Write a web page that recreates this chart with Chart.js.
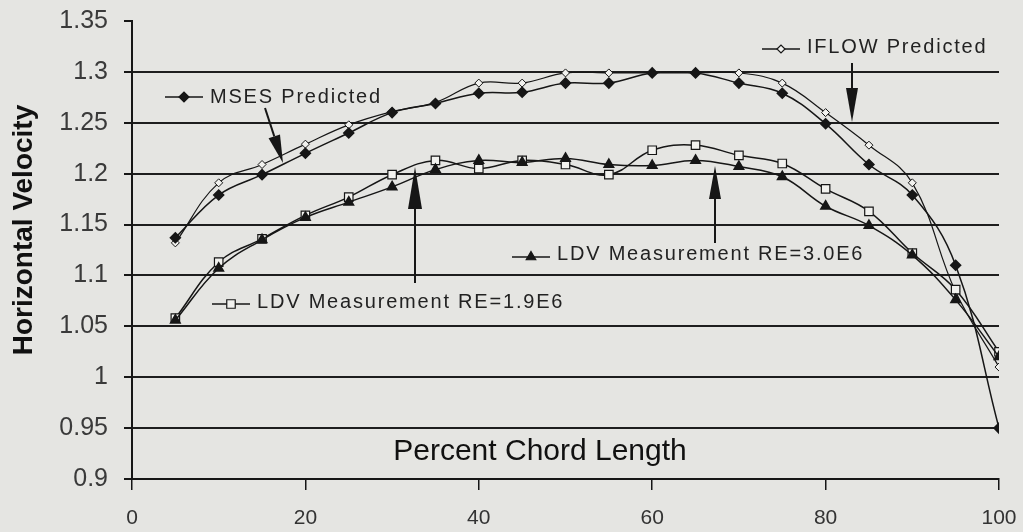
<!DOCTYPE html>
<html>
<head>
<meta charset="utf-8">
<title>Horizontal Velocity vs Percent Chord Length</title>
<script src="https://cdn.jsdelivr.net/npm/chart.js@4.4.0/dist/chart.umd.min.js"></script>
<style>
  html, body { margin: 0; padding: 0; background: #e5e5e2; }
  canvas { display: block; }
</style>
</head>
<body>
<canvas id="velocityChart" width="1023" height="532"></canvas>
<script>
// percent chord stations
const chordPercent = [5, 10, 15, 20, 25, 30, 35, 40, 45, 50, 55, 60, 65, 70, 75, 80, 85, 90, 95, 100];

// horizontal velocity at each station
const msesPredicted = [1.137, 1.179, 1.199, 1.220, 1.240, 1.260, 1.269, 1.279, 1.280, 1.289, 1.289, 1.299, 1.299, 1.289, 1.279, 1.249, 1.209, 1.179, 1.110, 0.950];
const iflowPredicted = [1.132, 1.191, 1.209, 1.229, 1.248, 1.261, 1.270, 1.289, 1.289, 1.299, 1.299, 1.299, 1.299, 1.299, 1.289, 1.260, 1.228, 1.191, 1.084, 1.010];
const ldvRe19 = [1.058, 1.113, 1.136, 1.159, 1.177, 1.199, 1.213, 1.205, 1.213, 1.209, 1.199, 1.223, 1.228, 1.218, 1.210, 1.185, 1.163, 1.122, 1.086, 1.025];
const ldvRe30 = [1.056, 1.107, 1.135, 1.157, 1.172, 1.187, 1.204, 1.213, 1.211, 1.215, 1.209, 1.208, 1.213, 1.207, 1.197, 1.168, 1.149, 1.120, 1.076, 1.020];

const velocityTicks = [0.9, 0.95, 1, 1.05, 1.1, 1.15, 1.2, 1.25, 1.3, 1.35];
const velocityTickLabels = ['0.9', '0.95', '1', '1.05', '1.1', '1.15', '1.2', '1.25', '1.3', '1.35'];
const chordTicks = [0, 20, 40, 60, 80, 100];

const ink = '#161616';
const paper = '#f2f2ef';
const fontFamily = '"Liberation Sans", Arial, sans-serif';

const toPoints = values => values.map((v, i) => ({ x: chordPercent[i], y: v }));

// marker + label entries drawn inside the plot, each with its own arrow
const notes = [
  { text: 'MSES Predicted', style: 'rectRot', radius: 5, fill: ink, lineX: 165, lineY: 97, textX: 210, baseY: 103,
    arrow: { x1: 265, y1: 108, x2: 283, y2: 163, head: 28, half: 6 } },
  { text: 'IFLOW Predicted', style: 'rectRot', radius: 4, fill: paper, lineX: 762, lineY: 49, textX: 807, baseY: 53,
    arrow: { x1: 852, y1: 63, x2: 852, y2: 122, head: 34, half: 6 } },
  { text: 'LDV Measurement RE=1.9E6', style: 'rect', radius: 6, fill: paper, lineX: 212, lineY: 304, textX: 257, baseY: 308,
    arrow: { x1: 415, y1: 283, x2: 415, y2: 167, head: 42, half: 7 } },
  { text: 'LDV Measurement RE=3.0E6', style: 'triangle', radius: 5.5, fill: ink, lineX: 512, lineY: 257, textX: 557, baseY: 260,
    arrow: { x1: 715, y1: 243, x2: 715, y2: 166, head: 33, half: 6 } }
];

function drawMarker(ctx, style, radius, fill, x, y) {
  ctx.fillStyle = fill;
  ctx.strokeStyle = ink;
  ctx.lineWidth = 1.2;
  Chart.helpers.drawPoint(ctx, { pointStyle: style, radius: radius, rotation: 0, borderWidth: 1.2 }, x, y);
}

function drawArrow(ctx, a) {
  const ang = Math.atan2(a.y2 - a.y1, a.x2 - a.x1);
  const bx = a.x2 - Math.cos(ang) * a.head;
  const by = a.y2 - Math.sin(ang) * a.head;
  ctx.strokeStyle = ink;
  ctx.lineWidth = 2;
  ctx.beginPath();
  ctx.moveTo(a.x1, a.y1);
  ctx.lineTo(bx, by);
  ctx.stroke();
  ctx.fillStyle = ink;
  ctx.beginPath();
  ctx.moveTo(a.x2, a.y2);
  ctx.lineTo(bx + Math.sin(ang) * a.half, by - Math.cos(ang) * a.half);
  ctx.lineTo(bx - Math.sin(ang) * a.half, by + Math.cos(ang) * a.half);
  ctx.closePath();
  ctx.fill();
}

const chartNotes = {
  id: 'chartNotes',
  beforeDraw(chart) {
    const ctx = chart.ctx;
    ctx.save();
    ctx.fillStyle = '#e5e5e2';
    ctx.fillRect(0, 0, chart.width, chart.height);
    ctx.restore();
  },
  afterDatasetsDraw(chart) {
    const ctx = chart.ctx;
    ctx.save();
    notes.forEach(n => {
      ctx.strokeStyle = ink;
      ctx.lineWidth = 1.5;
      ctx.beginPath();
      ctx.moveTo(n.lineX, n.lineY);
      ctx.lineTo(n.lineX + 38, n.lineY);
      ctx.stroke();
      drawMarker(ctx, n.style, n.radius, n.fill, n.lineX + 19, n.lineY);

      ctx.fillStyle = '#222';
      ctx.font = '20px ' + fontFamily;
      ctx.letterSpacing = '1.8px';
      ctx.textAlign = 'left';
      ctx.textBaseline = 'alphabetic';
      ctx.fillText(n.text, n.textX, n.baseY);
      ctx.letterSpacing = '0px';

      drawArrow(ctx, n.arrow);
    });

    // axis titles
    ctx.fillStyle = '#111';
    ctx.textAlign = 'center';
    ctx.textBaseline = 'alphabetic';
    ctx.font = '30px ' + fontFamily;
    ctx.fillText('Percent Chord Length', 540, 460);

    ctx.translate(24, 230);
    ctx.rotate(-Math.PI / 2);
    ctx.textBaseline = 'middle';
    ctx.font = 'bold 28px ' + fontFamily;
    ctx.fillText('Horizontal Velocity', 0, 0);
    ctx.restore();
  }
};

const ctx = document.getElementById('velocityChart').getContext('2d');
const velocityChart = new Chart(ctx, {
  type: 'line',
  data: {
    datasets: [
      {
        label: 'MSES Predicted',
        data: toPoints(msesPredicted),
        borderColor: ink,
        borderWidth: 1.5,
        pointStyle: 'rectRot',
        pointRadius: 5,
        pointBackgroundColor: ink,
        pointBorderColor: ink,
        order: 1
      },
      {
        label: 'IFLOW Predicted',
        data: toPoints(iflowPredicted),
        borderColor: ink,
        borderWidth: 1.2,
        pointStyle: 'rectRot',
        pointRadius: 4,
        pointBackgroundColor: paper,
        pointBorderColor: ink,
        pointBorderWidth: 1,
        order: 3
      },
      {
        label: 'LDV Measurement RE=1.9E6',
        data: toPoints(ldvRe19),
        borderColor: ink,
        borderWidth: 1.5,
        pointStyle: 'rect',
        pointRadius: 6,
        pointBackgroundColor: paper,
        pointBorderColor: ink,
        pointBorderWidth: 1.2,
        order: 2
      },
      {
        label: 'LDV Measurement RE=3.0E6',
        data: toPoints(ldvRe30),
        borderColor: ink,
        borderWidth: 1.5,
        pointStyle: 'triangle',
        pointRadius: 5.5,
        pointBackgroundColor: ink,
        pointBorderColor: ink,
        order: 0
      }
    ]
  },
  options: {
    responsive: false,
    animation: false,
    devicePixelRatio: 1,
    layout: { autoPadding: false, padding: { top: 21, right: 24, bottom: 0, left: 0 } },
    plugins: {
      legend: { display: false },
      tooltip: { enabled: false }
    },
    elements: {
      line: { tension: 0.4 }
    },
    scales: {
      x: {
        type: 'linear',
        min: 0,
        max: 100,
        afterBuildTicks: scale => { scale.ticks = chordTicks.map(v => ({ value: v })); },
        afterFit: scale => {
          scale.height = 53;
          scale.paddingLeft = 0;
          scale.paddingRight = 0;
        },
        grid: { drawOnChartArea: false, drawTicks: true, tickLength: 11, color: ink, lineWidth: 1.5 },
        border: { display: true, color: ink, width: 2 },
        ticks: {
          autoSkip: false,
          maxRotation: 0,
          padding: 16,
          color: '#333',
          font: { family: fontFamily, size: 21 }
        }
      },
      y: {
        type: 'linear',
        min: 0.9,
        max: 1.35,
        afterBuildTicks: scale => { scale.ticks = velocityTicks.map(v => ({ value: v })); },
        afterFit: scale => {
          scale.width = 132;
          scale.paddingTop = 0;
          scale.paddingBottom = 0;
        },
        grid: {
          color: c => (c.tick && c.tick.value >= 1.35 ? 'rgba(0,0,0,0)' : '#1e1e1e'),
          tickColor: ink,
          lineWidth: 2,
          tickLength: 8
        },
        border: { display: true, color: ink, width: 2 },
        ticks: {
          padding: 16,
          color: '#3a3a3a',
          font: { family: fontFamily, size: 25 },
          callback: (value, index) => velocityTickLabels[index]
        }
      }
    }
  },
  plugins: [chartNotes]
});
</script>
</body>
</html>
